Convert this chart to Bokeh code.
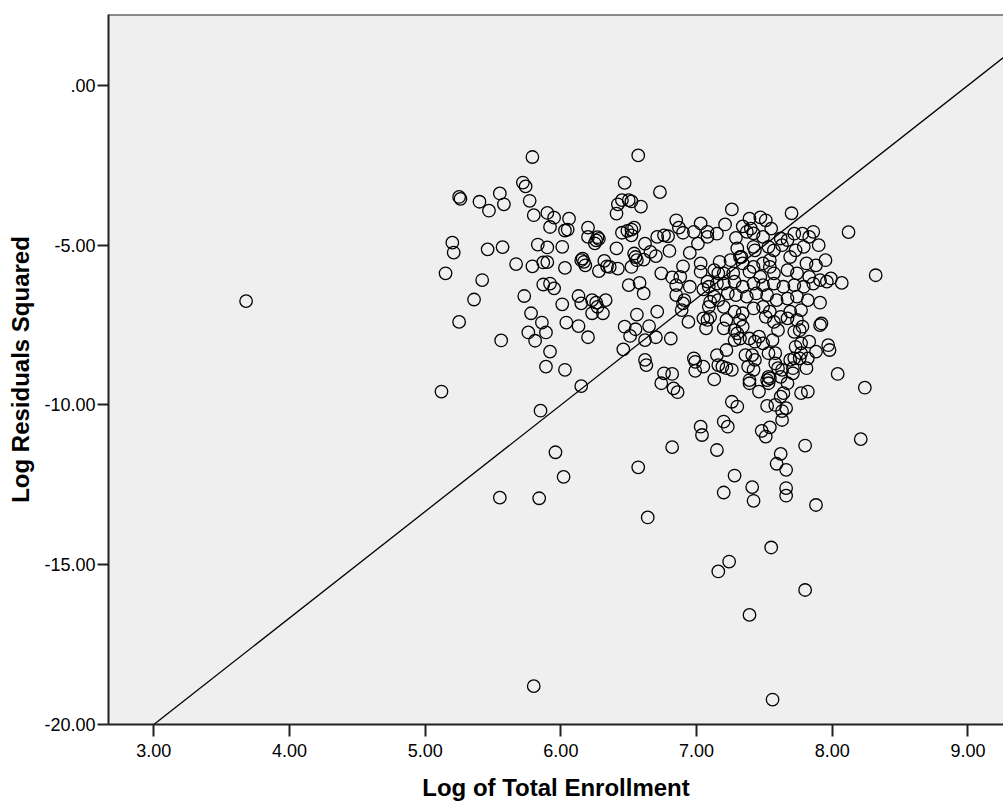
from bokeh.plotting import figure
from bokeh.models import Range1d, FixedTicker, Span, ColumnDataSource
from bokeh.embed import file_html
from bokeh.resources import INLINE

# ---- data ----
log_enrollment = [
    3.68, 5.79, 5.72, 5.74, 5.25, 5.26, 5.40, 5.55, 5.58, 5.47,
    5.77, 5.80, 5.90, 5.95, 6.06, 5.92, 6.03, 6.05, 5.20, 5.21,
    5.46, 5.57, 5.83, 5.90, 6.01, 5.67, 5.79, 5.87, 5.90, 6.03,
    5.15, 5.42, 5.87, 5.92, 5.95, 6.15, 6.57, 6.47, 6.73, 6.59,
    6.41, 6.42, 6.45, 6.50, 6.52, 6.20, 6.20, 6.27, 6.26, 6.25,
    6.28, 6.45, 6.49, 6.52, 6.54, 6.52, 6.41, 6.62, 6.54, 6.55,
    6.56, 6.61, 6.66, 6.70, 6.71, 6.76, 6.79, 6.80, 6.85, 6.87,
    6.90, 6.95, 6.98, 7.03, 7.01, 7.08, 7.08, 7.15, 6.16, 6.17,
    6.18, 6.32, 6.34, 6.36, 6.42, 6.28, 6.52, 6.90, 7.03, 7.03,
    6.74, 6.82, 6.88, 6.50, 6.58, 6.95, 7.08, 7.09, 7.15, 7.16,
    5.36, 5.73, 6.01, 6.13, 6.15, 5.25, 5.78, 5.86, 5.89, 6.04,
    6.13, 5.76, 5.81, 5.56, 5.92, 5.89, 6.03, 5.12, 6.15, 5.85,
    6.61, 6.23, 6.26, 6.27, 6.33, 6.23, 6.31, 6.20, 6.56, 6.71,
    6.47, 6.51, 6.55, 6.65, 6.62, 6.70, 6.46, 6.81, 6.62, 6.63,
    6.76, 6.82, 6.74, 6.83, 6.86, 6.89, 6.94, 6.90, 6.91, 6.85,
    7.05, 7.08, 7.07, 6.98, 6.99, 6.99, 7.05, 7.13, 7.15, 7.16,
    7.03, 6.85, 7.13, 7.05, 7.10, 7.09, 7.16, 5.96, 6.02, 5.55,
    5.84, 6.57, 6.64, 6.82, 7.04, 7.20, 7.23, 7.15, 7.28, 7.20,
    7.41, 7.42, 7.48, 7.54, 7.51, 7.62, 7.59, 7.66, 7.66, 7.66,
    7.80, 7.88, 8.21, 7.55, 7.24, 7.16, 7.80, 7.39, 5.80, 7.56,
    7.63, 7.26, 7.70, 8.12, 8.32, 7.21, 7.29, 7.34, 7.39, 7.40,
    7.47, 7.51, 7.55, 7.37, 7.42, 7.30, 7.32, 7.42, 7.43, 7.49,
    7.53, 7.57, 7.62, 7.63, 7.67, 7.72, 7.78, 7.83, 7.86, 7.90,
    7.95, 7.79, 7.73, 7.69, 7.54, 7.49, 7.42, 7.33, 7.25, 7.17,
    7.13, 7.20, 7.27, 7.34, 7.39, 7.47, 7.54, 7.57, 7.67, 7.74,
    7.81, 7.88, 7.83, 7.91, 7.99, 8.07, 7.91, 7.91, 7.92, 8.24,
    8.04, 7.97, 7.98, 7.88, 7.83, 7.82, 7.77, 7.76, 7.72, 7.69,
    7.73, 7.77, 7.72, 7.76, 7.78, 7.81, 7.71, 7.71, 7.63, 7.62,
    7.67, 7.64, 7.62, 7.58, 7.52, 7.63, 7.66, 7.77, 7.82, 7.53,
    7.52, 7.53, 7.54, 7.46, 7.39, 7.42, 7.38, 7.43, 7.41, 7.36,
    7.60, 7.58, 7.53, 7.58, 7.49, 7.56, 7.60, 7.57, 7.43, 7.46,
    7.39, 7.32, 7.28, 7.22, 7.20, 7.22, 7.28, 7.30, 7.34, 7.32,
    7.19, 7.22, 7.26, 7.39, 7.26, 7.30, 7.20, 7.28, 7.34, 7.42,
    7.49, 7.57, 7.64, 7.72, 7.79, 7.86, 7.96, 7.23, 7.29, 7.37,
    7.44, 7.52, 7.59, 7.67, 7.74, 7.82, 7.20, 7.28, 7.34, 7.42,
    7.49, 7.54, 7.62, 7.69, 7.77, 7.10, 7.51, 7.67, 7.74,
]

log_resid_sq = [
    -6.75, -2.24, -3.04, -3.16, -3.49, -3.55, -3.64, -3.38, -3.72, -3.92,
    -3.61, -4.06, -3.99, -4.14, -4.17, -4.43, -4.54, -4.51, -4.92, -5.23,
    -5.13, -5.06, -4.98, -5.07, -5.05, -5.59, -5.66, -5.54, -5.53, -5.71,
    -5.88, -6.09, -6.23, -6.20, -6.35, -5.47, -2.19, -3.05, -3.34, -3.79,
    -4.01, -3.72, -3.59, -3.59, -3.63, -4.45, -4.74, -4.75, -4.85, -4.94,
    -4.80, -4.61, -4.55, -4.51, -4.45, -4.69, -5.10, -4.95, -5.26, -5.37,
    -5.47, -5.45, -5.21, -5.34, -4.74, -4.69, -4.72, -5.18, -4.22, -4.45,
    -4.61, -5.24, -4.58, -4.32, -4.95, -4.58, -4.74, -4.64, -5.42, -5.52,
    -5.63, -5.49, -5.66, -5.68, -5.73, -5.81, -5.68, -5.66, -5.57, -5.83,
    -5.88, -6.01, -5.99, -6.25, -6.18, -6.30, -6.14, -6.30, -6.20, -5.88,
    -6.70, -6.59, -6.85, -6.59, -6.82, -7.40, -7.13, -7.42, -7.73, -7.42,
    -7.53, -7.73, -7.99, -7.98, -8.33, -8.80, -8.90, -9.58, -9.41, -10.18,
    -6.51, -6.72, -6.80, -6.93, -6.72, -7.13, -7.13, -7.88, -7.17, -7.08,
    -7.55, -7.84, -7.63, -7.53, -7.97, -7.88, -8.26, -7.92, -8.59, -8.75,
    -9.01, -9.03, -9.32, -9.48, -9.60, -7.03, -7.40, -6.82, -6.72, -6.56,
    -7.29, -7.34, -7.60, -8.54, -8.65, -8.93, -8.80, -9.20, -8.44, -8.75,
    -10.68, -6.25, -6.61, -6.38, -6.77, -6.93, -6.72, -11.48, -12.25, -12.90,
    -12.92, -11.95, -13.52, -11.32, -10.94, -10.52, -10.68, -11.41, -12.21, -12.74,
    -12.57, -13.00, -10.81, -10.70, -10.99, -11.53, -11.84, -12.03, -12.60, -12.84,
    -11.27, -13.13, -11.07, -14.46, -14.90, -15.21, -15.79, -16.57, -18.80, -19.22,
    -10.47, -3.88, -4.00, -4.59, -5.94, -4.35, -4.77, -4.41, -4.17, -4.48,
    -4.13, -4.22, -4.48, -4.58, -4.63, -5.10, -5.37, -5.05, -5.16, -4.74,
    -5.05, -5.16, -4.79, -5.00, -4.84, -4.64, -4.64, -4.74, -4.58, -5.00,
    -5.47, -5.05, -5.16, -5.37, -5.47, -5.57, -5.68, -5.37, -5.47, -5.52,
    -5.78, -5.88, -5.88, -5.57, -5.83, -5.99, -5.68, -5.88, -5.78, -5.88,
    -5.57, -5.63, -5.99, -6.09, -6.04, -6.18, -6.80, -7.50, -7.45, -9.46,
    -9.03, -8.13, -8.28, -8.33, -8.02, -8.54, -8.38, -8.54, -8.54, -8.59,
    -8.18, -8.07, -7.71, -7.66, -7.55, -8.85, -8.85, -9.01, -8.90, -9.12,
    -9.32, -9.63, -9.74, -10.00, -10.03, -10.19, -10.10, -9.63, -9.58, -9.12,
    -9.22, -9.32, -9.17, -9.58, -9.32, -8.90, -8.80, -8.59, -8.44, -8.44,
    -8.85, -8.70, -8.38, -8.38, -8.07, -7.97, -7.66, -7.40, -8.02, -7.86,
    -7.92, -7.92, -7.97, -8.28, -7.60, -7.34, -7.66, -7.76, -7.55, -7.34,
    -8.80, -8.85, -8.90, -9.22, -9.90, -10.05, -6.20, -6.14, -6.30, -6.20,
    -6.25, -6.20, -6.30, -6.25, -6.30, -6.20, -6.14, -6.51, -6.56, -6.61,
    -6.51, -6.56, -6.72, -6.67, -6.61, -6.72, -6.93, -7.08, -7.13, -6.98,
    -6.93, -7.08, -7.24, -7.08, -7.03, -7.24, -7.24, -7.29, -7.34,
]

x_tick_values = [3, 4, 5, 6, 7, 8, 9]
x_tick_labels = ["3.00", "4.00", "5.00", "6.00", "7.00", "8.00", "9.00"]
y_tick_values = [0, -5, -10, -15, -20]
y_tick_labels = [".00", "-5.00", "-10.00", "-15.00", "-20.00"]

# reference line y = intercept + slope * x
ref_intercept = -30.0
ref_slope = 3.3333

x_min, x_max = 2.666, 9.262
y_min, y_max = -20.0, 2.22

FONT = "Liberation Sans"
AXIS_COLOR = "#222222"

p = figure(width=1003, height=804, output_backend="svg", toolbar_location=None,
           x_range=Range1d(x_min, x_max), y_range=Range1d(y_min, y_max),
           min_border_left=108, min_border_right=0, min_border_top=14,
           min_border_bottom=80)
p.background_fill_color = "#EFEFEF"
p.border_fill_color = "white"
p.outline_line_color = None
p.grid.visible = False

# reference line
line_x = [3.0, x_max]
line_y = [ref_intercept + ref_slope * v for v in line_x]
p.line(line_x, line_y, line_color="black", line_width=1.3)

src = ColumnDataSource(dict(x=log_enrollment, y=log_resid_sq))
p.scatter("x", "y", source=src, marker="circle", size=12.5, fill_color=None,
          line_color="black", line_width=1.3)

# top border
p.add_layout(Span(location=y_max, dimension="width", line_color=AXIS_COLOR, line_width=2))

for ax in (p.xaxis[0], p.yaxis[0]):
    ax.axis_line_color = AXIS_COLOR
    ax.axis_line_width = 2
    ax.major_tick_line_color = AXIS_COLOR
    ax.major_tick_line_width = 2
    ax.major_tick_in = 0
    ax.minor_tick_in = 0
    ax.minor_tick_out = 0
    ax.major_label_text_font = FONT
    ax.major_label_text_font_size = "18px"
    ax.major_label_text_color = "black"
    ax.axis_label_text_font = FONT
    ax.axis_label_text_font_style = "bold"
    ax.axis_label_text_font_size = "24px"
    ax.axis_label_text_color = "black"

p.xaxis.ticker = FixedTicker(ticks=x_tick_values)
p.xaxis.major_label_overrides = dict(zip(x_tick_values, x_tick_labels))
p.xaxis.major_tick_out = 12
p.xaxis.major_label_standoff = 7
p.xaxis.axis_label = "Log of Total Enrollment"
p.xaxis.axis_label_standoff = 14

p.yaxis.ticker = FixedTicker(ticks=y_tick_values)
p.yaxis.major_label_overrides = dict(zip(y_tick_values, y_tick_labels))
p.yaxis.major_tick_out = 11
p.yaxis.major_label_standoff = 2
p.yaxis.axis_label = "Log Residuals Squared"
p.yaxis.axis_label_standoff = 7

open("out.html", "w").write(file_html(p, INLINE))
